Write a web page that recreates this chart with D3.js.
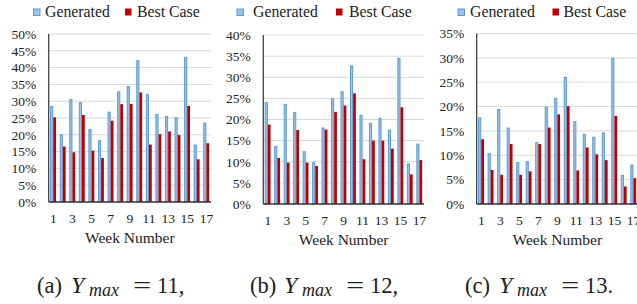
<!DOCTYPE html>
<html><head><meta charset="utf-8">
<script src="https://cdn.jsdelivr.net/npm/d3@7"></script>
<style>
html,body{margin:0;padding:0;background:#fff;}
svg{display:block;}
svg text{font-family:"Liberation Serif",Tinos,"Times New Roman","DejaVu Serif",serif !important;fill:#222;}
</style></head>
<body>
<script>
const weeks = [1,2,3,4,5,6,7,8,9,10,11,12,13,14,15,16,17];
const seriesNames = ["Generated","Best Case"];
const genA  = [28.6,20.2,30.6,29.7,21.7,18.4,26.9,32.9,34.5,42.2,32.1,26.2,25.6,25.2,43.2,17.1,23.6];
const bestA = [25.2,16.5,14.8,25.9,15.3,13.1,24.2,29.1,29.2,32.6,17.1,20.2,21.0,19.9,28.6,12.7,17.5];
const genB  = [24.1,13.7,23.7,21.8,12.5,9.9,18.1,25.0,26.7,32.8,21.1,19.2,20.4,17.6,34.6,9.6,14.3];
const bestB = [18.8,10.9,9.8,17.5,9.8,9.0,17.6,21.8,23.3,26.2,10.6,15.0,15.0,13.1,22.9,7.0,10.4];
const genC  = [17.8,10.4,19.5,15.7,8.6,8.8,12.7,20.0,21.8,26.1,17.0,14.4,13.8,14.7,30.0,6.0,8.1];
const bestC = [13.3,7.0,6.0,12.3,6.0,6.7,12.3,15.7,18.4,20.1,6.9,11.6,10.2,9.0,18.1,3.6,5.3];
const yTicksA = [0,5,10,15,20,25,30,35,40,45,50];
const yTicksB = [0,5,10,15,20,25,30,35,40];
const yTicksC = [0,5,10,15,20,25,30,35];
const xTickLabels = [1,3,5,7,9,11,13,15,17];
const xTitle = "Week Number";
const captionLetters = ["(a)","(b)","(c)"];
const captionValues = ["11,","12,","13."];

const W = 637, H = 304;
const svg = d3.select("body").append("svg").attr("width", W).attr("height", H);

const panels = [
  {gen: genA, best: bestA, ticks: yTicksA, left: 48.7, right: 211, top: 34, bottom: 202, legX: [33, 45, 125, 137], capX: 37},
  {gen: genB, best: bestB, ticks: yTicksB, left: 263.3, right: 424, top: 35, bottom: 204, legX: [236.5, 253, 336, 349], capX: 250},
  {gen: genC, best: bestC, ticks: yTicksC, left: 476.7, right: 638, top: 33.5, bottom: 204, legX: [457.5, 470, 552.5, 563.5], capX: 465}
];

const genFill = "#9dc3e6", genStroke = "#5b9bd5", bestFill = "#c00000";
const serif = '"Liberation Serif",Tinos,"Times New Roman","DejaVu Serif",serif';

panels.forEach((p, i) => {
  const g = svg.append("g").attr("font-family", serif);
  const ymax = p.ticks[p.ticks.length - 1];
  const y = d3.scaleLinear().domain([0, ymax]).range([p.bottom, p.top]);
  const x = d3.scaleBand().domain(weeks).range([p.left, p.right]).paddingInner(0.34).paddingOuter(0.15);
  const x1 = d3.scaleBand().domain(seriesNames).range([0, x.bandwidth()]);

  g.append("g").selectAll("line").data(p.ticks.filter(t => t > 0)).join("line")
    .attr("x1", p.left).attr("x2", p.right)
    .attr("y1", d => y(d)).attr("y2", d => y(d))
    .attr("stroke", "#d9d9d9").attr("stroke-width", 1);

  const yAxis = d3.axisLeft(y).tickValues(p.ticks).tickFormat(d => d + "%").tickSize(0).tickPadding(12.5);
  const ya = g.append("g").attr("transform", `translate(${p.left},0)`).call(yAxis)
    .attr("font-family", serif).attr("font-size", 13.5);
  ya.select(".domain").remove();
  ya.selectAll("text").attr("fill", "#222");

  const rows = weeks.map((w, k) => ({w, gen: p.gen[k], best: p.best[k]}));
  g.append("g").selectAll("rect").data(rows).join("rect")
    .attr("x", d => x(d.w) + x1("Generated") + 0.5)
    .attr("y", d => y(d.gen) + 0.5)
    .attr("width", x1.bandwidth() - 1)
    .attr("height", d => p.bottom - y(d.gen) - 0.5)
    .attr("fill", genFill).attr("stroke", genStroke).attr("stroke-width", 1);
  g.append("g").selectAll("rect").data(rows).join("rect")
    .attr("x", d => x(d.w) + x1("Best Case"))
    .attr("y", d => y(d.best))
    .attr("width", x1.bandwidth() - 0.4)
    .attr("height", d => p.bottom - y(d.best))
    .attr("fill", bestFill);

  g.append("line").attr("x1", p.left).attr("x2", p.left).attr("y1", p.top).attr("y2", p.bottom)
    .attr("stroke", "#333").attr("stroke-width", 1.2);
  g.append("line").attr("x1", p.left).attr("x2", p.right).attr("y1", p.bottom).attr("y2", p.bottom)
    .attr("stroke", "#333").attr("stroke-width", 1.4);

  const xAxis = d3.axisBottom(x).tickValues(xTickLabels).tickSize(0).tickPadding(11);
  const xa = g.append("g").attr("transform", `translate(0,${p.bottom})`).call(xAxis)
    .attr("font-family", serif).attr("font-size", 13.5);
  xa.select(".domain").remove();
  xa.selectAll("text").attr("fill", "#222");

  g.append("text").attr("x", (p.left + p.right) / 2).attr("y", p.bottom + 41)
    .attr("text-anchor", "middle").attr("font-size", 15.5).text(xTitle);

  const [bx, tx, rx, tx2] = p.legX;
  g.append("rect").attr("x", bx + 0.5).attr("y", 9).attr("width", 6.5).attr("height", 6.5)
    .attr("fill", genFill).attr("stroke", genStroke).attr("stroke-width", 1);
  g.append("text").attr("x", tx).attr("y", 17).attr("font-size", 15.8).text(seriesNames[0]);
  g.append("rect").attr("x", rx).attr("y", 8.5).attr("width", 6.5).attr("height", 7).attr("fill", bestFill);
  g.append("text").attr("x", tx2).attr("y", 17).attr("font-size", 15.8).text(seriesNames[1]);

  const cx = p.capX, cy = 293;
  const cap = g.append("g").attr("font-size", 22.5);
  cap.append("text").attr("x", cx).attr("y", cy).text(captionLetters[i]);
  cap.append("text").attr("x", cx + 34).attr("y", cy).attr("font-style", "italic").attr("font-size", 24).text("Y");
  cap.append("text").attr("x", cx + 52).attr("y", cy + 3).attr("font-style", "italic").attr("font-size", 18).text("max");
  cap.append("text").attr("x", cx + 96).attr("y", cy).attr("font-size", 24).attr("transform", `translate(${cx+96},${cy}) scale(1.35,1) translate(${-(cx+96)},${-cy})`).text("=");
  cap.append("text").attr("x", cx + 120).attr("y", cy).text(captionValues[i]);
});
</script>
</body></html>
